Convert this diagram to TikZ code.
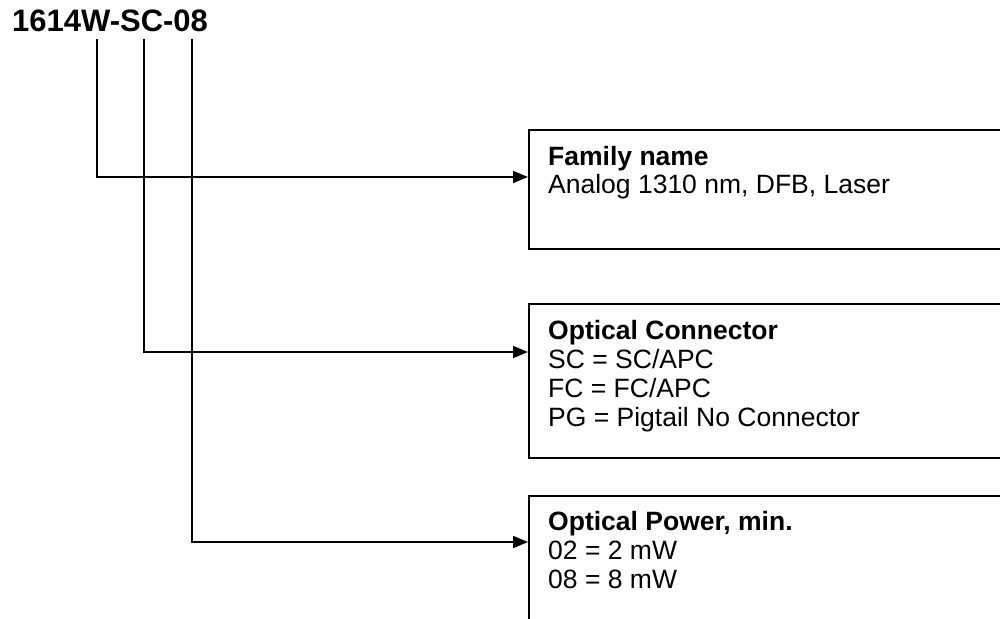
\documentclass[tikz,border=0pt]{standalone}
\usepackage{fontspec}
\setmainfont{Liberation Sans}
\usetikzlibrary{arrows.meta,calc}

\begin{document}
\begin{tikzpicture}[x=1pt,y=-1pt,
  infobox/.style={draw, line width=1.8pt, rectangle, anchor=north west, minimum width=500pt, inner sep=0pt},
  info/.style={anchor=base west, inner sep=0pt, font=\fontsize{26.5}{30}\selectfont},
  head/.style={info, font=\fontsize{26.5}{30}\selectfont\bfseries},
  feed/.style={-{Triangle[length=15pt,width=12pt]}, line width=1.8pt}]
  \useasboundingbox (0,0) rectangle (1000,618);
  % код
  \node [anchor=base west, inner sep=0pt, font=\fontsize{31}{36}\selectfont\bfseries] (code) at (12,32) {1614W-SC-08};
  % рамки
  \node [infobox, minimum height=119pt] (family) at (528,129) {};
  \node [infobox, minimum height=154pt] (conn) at (528,303) {};
  \node [infobox, minimum height=200pt] (power) at (528,495) {};
  % стрелки
  \coordinate (pFamily) at (97,39);
  \coordinate (pConn) at (144,39);
  \coordinate (pPower) at (192,39);
  \coordinate (inFamily) at ($(family.north west)+(0,48)$);
  \coordinate (inConn) at ($(conn.north west)+(0,49)$);
  \coordinate (inPower) at ($(power.north west)+(0,47)$);
  \draw [feed] (pFamily) |- (inFamily);
  \draw [feed] (pConn) |- (inConn);
  \draw [feed] (pPower) |- (inPower);
  % подписи
  \node [head] at ($(family.north west)+(20,36)$) {Family name};
  \node [info] at ($(family.north west)+(20,64)$) {Analog 1310 nm, DFB, Laser};
  \node [head] at ($(conn.north west)+(20,36)$) {Optical Connector};
  \foreach \txt [count=\i] in {SC = SC/APC, FC = FC/APC, PG = Pigtail No Connector}
    \node [info] at ($(conn.north west)+(20,36+29.3*\i)$) {\txt};
  \node [head] at ($(power.north west)+(20,35)$) {Optical Power, min.};
  \foreach \txt [count=\i] in {02 = 2 mW, 08 = 8 mW}
    \node [info] at ($(power.north west)+(20,35+29*\i)$) {\txt};
\end{tikzpicture}
\end{document}
